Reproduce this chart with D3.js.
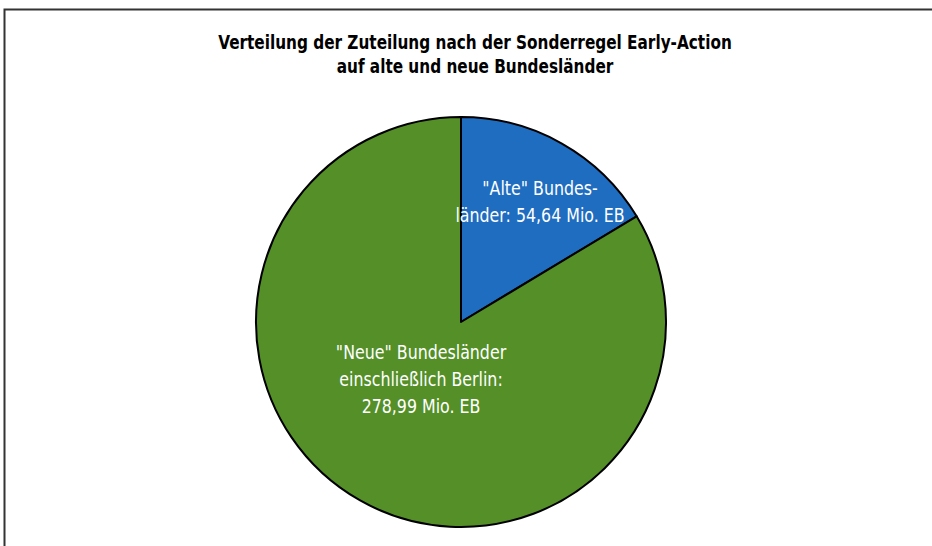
<!DOCTYPE html>
<html>
<head>
<meta charset="utf-8">
<script src="https://cdn.jsdelivr.net/npm/d3@7"></script>
<style>
  body { margin: 0; background: #fff; }
  svg { display: block; }
</style>
</head>
<body>
<svg></svg>
<script>
// Data
let categories = ['"Alte" Bundesländer', '"Neue" Bundesländer einschließlich Berlin'];
let values = [54.64, 278.99];
let labelLines = [
  ['"Alte" Bundes-', 'länder: 54,64 Mio. EB'],
  ['"Neue" Bundesländer', 'einschließlich Berlin:', '278,99 Mio. EB']
];
let colors = ['#1f6dc0', '#548f28'];
let titleLines = ['Verteilung der Zuteilung nach der Sonderregel Early-Action', 'auf alte und neue Bundesländer'];

let svgWidth = 932;
let svgHeight = 546;
let font = '"DejaVu Sans Condensed", "Liberation Sans Narrow", sans-serif';

let svg = d3.select('svg')
  .attr('width', svgWidth)
  .attr('height', svgHeight);

// Frame (clipped at right and bottom)
svg.append('path')
  .attr('d', 'M4.5,' + svgHeight + ' V9.5 H' + svgWidth)
  .attr('fill', 'none')
  .attr('stroke', '#333')
  .attr('stroke-width', 2);

// Title (squeezed horizontally to mimic a condensed face)
svg.append('g')
  .attr('transform', 'translate(475, 49) scale(0.85, 1)')
  .append('text')
  .attr('text-anchor', 'middle')
  .attr('font-family', font)
  .attr('font-weight', 'bold')
  .attr('font-size', '20px')
  .selectAll('tspan')
  .data(titleLines)
  .enter()
  .append('tspan')
  .attr('x', 0)
  .attr('y', (d, i) => i * 24)
  .text(d => d);

// Pie
let cx = 461, cy = 322, radius = 205;

let pie = d3.pie().sort(null).value(d => d);
let arc = d3.arc().innerRadius(0).outerRadius(radius);

let g = svg.append('g')
  .attr('transform', 'translate(' + cx + ', ' + cy + ')');

let arcs = pie(values);

g.selectAll('path')
  .data(arcs)
  .enter()
  .append('path')
  .attr('d', arc)
  .attr('fill', (d, i) => colors[i])
  .attr('stroke', '#000')
  .attr('stroke-width', 2)
  .attr('stroke-linejoin', 'round');

// Labels
let labelPos = [[79, -127], [-40, 37]];
let lineHeight = 27;

g.selectAll('.slice-label')
  .data(arcs)
  .enter()
  .append('g')
  .attr('class', 'slice-label')
  .attr('transform', (d, i) => 'translate(' + labelPos[i][0] + ', ' + labelPos[i][1] + ') scale(0.88, 1)')
  .append('text')
  .attr('text-anchor', 'middle')
  .attr('font-family', font)
  .attr('font-size', '20px')
  .attr('fill', '#fff')
  .each(function (d, i) {
    let t = d3.select(this);
    labelLines[i].forEach((line, j) => {
      t.append('tspan')
        .attr('x', 0)
        .attr('y', j * lineHeight)
        .text(line);
    });
  });
</script>
</body>
</html>
